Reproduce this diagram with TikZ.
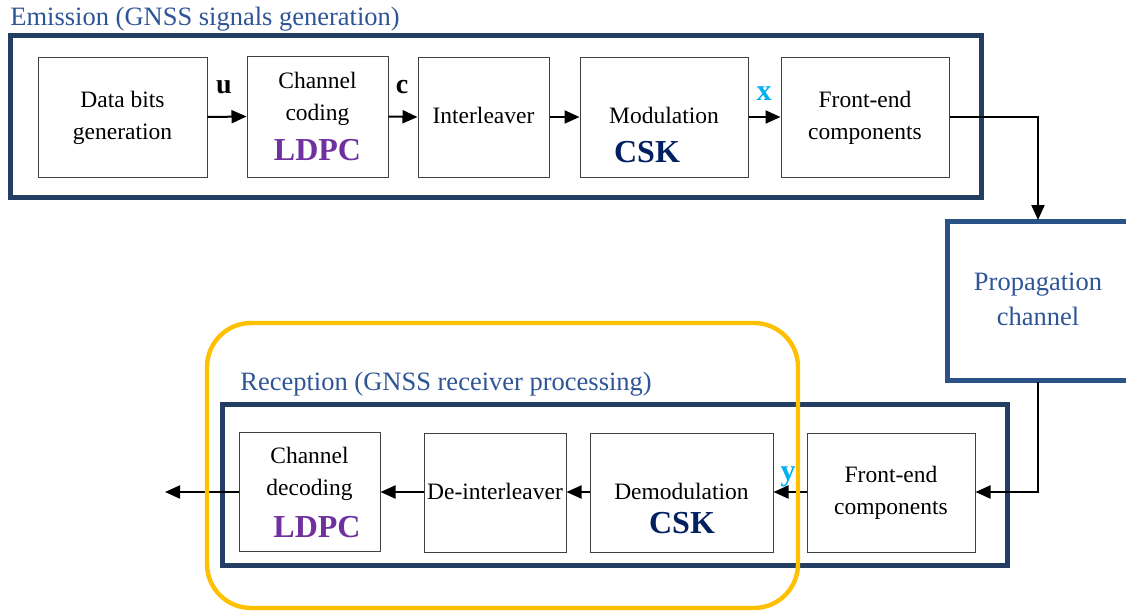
\documentclass[tikz,border=0pt]{standalone}
\usepackage{fontspec}
\setmainfont{Liberation Serif}
\usetikzlibrary{arrows.meta,fit}
\definecolor{navybox}{HTML}{233E62}
\definecolor{labblue}{HTML}{2F5597}
\definecolor{propblue}{HTML}{2B5287}
\definecolor{ldpcpurple}{HTML}{7030A0}
\definecolor{cskblue}{HTML}{002060}
\definecolor{sigcyan}{HTML}{00B0F0}
\definecolor{recyellow}{HTML}{FFC000}
\definecolor{boxgray}{HTML}{404040}
\tikzset{
  blk/.style={draw=boxgray, line width=0.5pt, inner sep=0pt, fill=white},
  txt/.style={anchor=base, inner sep=0pt, font=\fontsize{11.75}{14}\selectfont},
  grouplab/.style={anchor=base west, inner sep=0pt, text=labblue, font=\fontsize{13.25}{16}\selectfont},
  codelab/.style={anchor=base, inner sep=0pt, text=ldpcpurple, font=\fontsize{16}{18}\selectfont\bfseries},
  modlab/.style={anchor=base, inner sep=0pt, text=cskblue, font=\fontsize{16}{18}\selectfont\bfseries},
  varlab/.style={anchor=base, inner sep=0pt, font=\fontsize{14}{16}\selectfont\bfseries},
  siglab/.style={anchor=base, inner sep=0pt, text=sigcyan, font=\fontsize{15}{17}\selectfont\bfseries},
  arr/.style={line width=1pt, -{Triangle[length=7.5pt,width=6.5pt]}},
  groupbox/.style={draw=navybox, line width=2.5pt},
}
\begin{document}
\begin{tikzpicture}[x=0.5pt,y=-0.5pt]
\useasboundingbox (0,0) rectangle (1126,612);
\clip (0,0) rectangle (1126,612);
\fill[white] (0,0) rectangle (1126,612);

% Emission group
\node[grouplab] (emlab) at (10,25) {Emission (GNSS signals generation)};
\draw[groupbox] (10.5,35.5) rectangle (981,197.5);

\node[blk, fit={(38,57) (207,177)}] (dbg) {};
\node[blk, fit={(247,56) (388,177)}] (cc) {};
\node[blk, fit={(418,57) (549,177)}] (il) {};
\node[blk, fit={(580,57) (748,177)}] (mod) {};
\node[blk, fit={(781,57) (949,177)}] (fe1) {};

\node[txt] (dbg1) at (122.5,107) {Data bits};
\node[txt] (dbg2) at (122.5,139) {generation};
\node[txt] (cc1) at (317.5,88) {Channel};
\node[txt] (cc2) at (317.5,120) {coding};
\node[codelab] (cc3) at (317.5,160) {LDPC};
\node[txt] (il1) at (483.5,123) {Interleaver};
\node[txt] (mod1) at (664,123) {Modulation};
\node[modlab] (mod2) at (647,162) {CSK};
\node[txt] (fe11) at (865,107) {Front-end};
\node[txt] (fe12) at (865,139) {components};

\node[varlab] (u) at (224,93) {u};
\node[varlab] (c) at (402,93) {c};
\node[siglab] (x) at (764,100) {x};

\draw[arr] (dbg.east) -- (cc.west);
\draw[arr] (cc.east) -- (il.west);
\draw[arr] (il.east) -- (mod.west);
\draw[arr] (mod.east) -- (fe1.west);

% Propagation channel
\node[draw=propblue, line width=2.5pt, fill=white, inner sep=0pt, fit={(947.5,221.5) (1130,380.5)}] (prop) {};
\node[anchor=base, inner sep=0pt, text=labblue, font=\fontsize{13.25}{16}\selectfont] (prop1) at (1038,290) {Propagation};
\node[anchor=base, inner sep=0pt, text=labblue, font=\fontsize{13.25}{16}\selectfont] (prop2) at (1038,325) {channel};
\coordinate (bendA) at (1038,117);
\coordinate (bendB) at (1038,492);
\coordinate (propTop) at (1038,220);
\coordinate (propBot) at (1038,382);
\draw[arr] (fe1.east) -- (bendA) -- (propTop);

% Reception group
\node[grouplab] (reclab) at (240,390) {Reception (GNSS receiver processing)};
\draw[groupbox] (222,404.5) rectangle (1007.5,565.5);

\node[blk, fit={(239,432) (380,551)}] (cd) {};
\node[blk, fit={(424,433) (566,552)}] (di) {};
\node[blk, fit={(590,433) (773,552)}] (dem) {};
\node[blk, fit={(807,433) (975,552)}] (fe2) {};

\node[txt] (cd1) at (309.5,463) {Channel};
\node[txt] (cd2) at (309.5,495) {decoding};
\node[codelab] (cd3) at (317,537) {LDPC};
\node[txt] (di1) at (495,499) {De-interleaver};
\node[txt] (dem1) at (681.5,499) {Demodulation};
\node[modlab] (dem2) at (682,533) {CSK};
\node[txt] (fe21) at (891,482) {Front-end};
\node[txt] (fe22) at (891,514) {components};
\node[siglab] (y) at (788,480) {y};

\coordinate (outEnd) at (165,492);
\draw[arr] (propBot) -- (bendB) -- (fe2.east |- bendB);
\draw[arr] (fe2.west |- bendB) -- (dem.east |- bendB);
\draw[arr] (dem.west |- bendB) -- (di.east |- bendB);
\draw[arr] (di.west |- bendB) -- (cd.east |- bendB);
\draw[arr] (cd.west |- bendB) -- (outEnd);

% Receiver highlight
\draw[recyellow, line width=2.2pt, rounded corners=22pt] (207,323) rectangle (798,608);
\end{tikzpicture}
\end{document}
